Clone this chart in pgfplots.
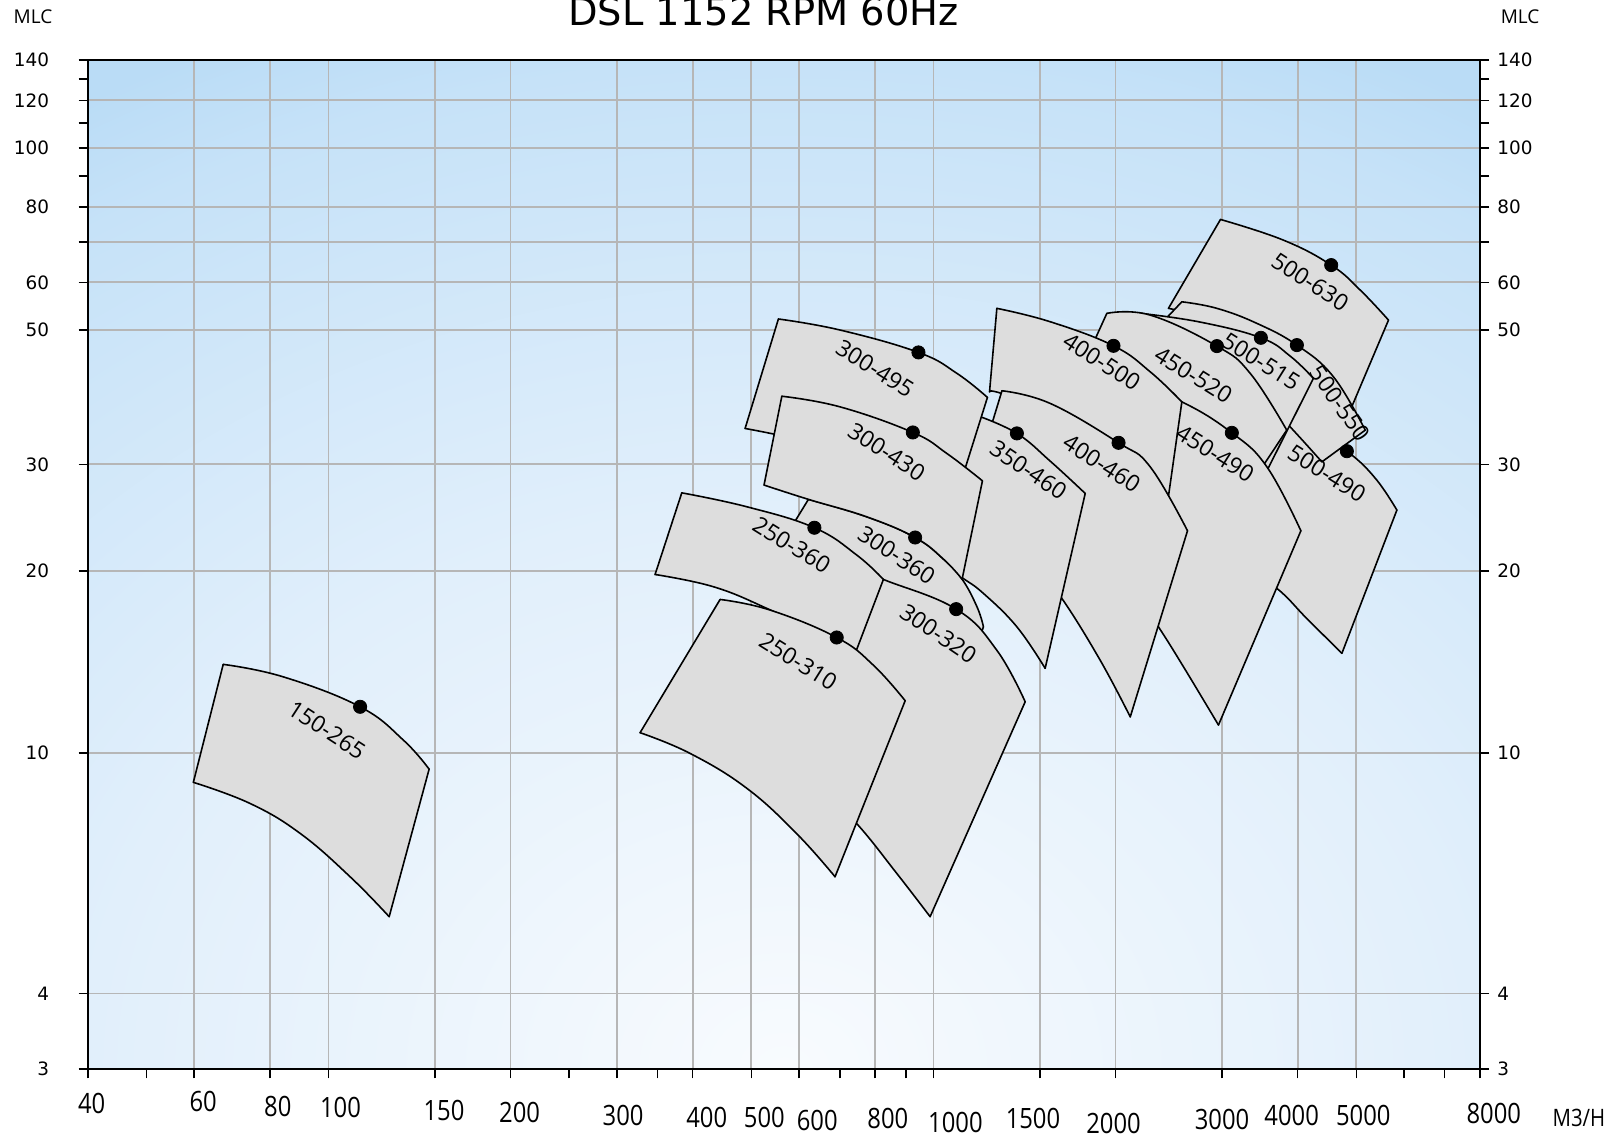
\documentclass[border=0pt]{standalone}
\usepackage{pgfplots}
\pgfplotsset{compat=1.18}
\usepgfplotslibrary{fillbetween}
\usepackage{fontspec}
\setmainfont{Open Sans}
\newfontfamily\dejavu{DejaVu Sans}
\newfontfamily\narrow[FakeStretch=0.85]{Open Sans}
\definecolor{gridc}{RGB}{182,182,182}
\definecolor{shapec}{RGB}{221,221,221}
\definecolor{bgA}{RGB}{248,251,254}
\definecolor{bgB}{RGB}{225,239,251}
\definecolor{bgC}{RGB}{198,226,248}
\definecolor{bgD}{RGB}{186,220,246}
\pgfdeclareradialshading{bgshade}{\pgfpointorigin}{color(0bp)=(bgA); color(12.5bp)=(bgB); color(22.5bp)=(bgC); color(25bp)=(bgD); color(50bp)=(bgD)}
\tikzset{fill between/on layer=main}
\newcommand\tl[3]{\raisebox{-#2}{\hspace*{#1}#3\hspace*{-#1}}}
\pgfplotsset{outl/.style={black, line width=0.8pt, line join=round, line cap=round}}
\newcommand\pump[5]{%
  \addplot[draw=none, smooth, tension=0.7, name path=T#1] coordinates {#2};
  \addplot[draw=none, smooth, tension=0.7, name path=B#1] coordinates {#3};
  \addplot[fill=shapec, draw=none] fill between[of=T#1 and B#1];
  \addplot[outl, smooth, tension=0.7] coordinates {#2};
  \addplot[outl, smooth, tension=0.7] coordinates {#3};
  \addplot[outl] coordinates {#4};
  \addplot[outl] coordinates {#5};
}
\begin{document}
\begin{tikzpicture}
\begin{axis}[
  set layers,
  scale only axis, width=696pt, height=504.6pt,
  xmode=log, ymode=log, xmin=40, xmax=8000, ymin=3, ymax=140,
  xtick={40,60,80,100,150,200,300,400,500,600,800,1000,1500,2000,3000,4000,5000,8000},
  xticklabels={\tl{2pt}{17.6pt}{40},\tl{4.5pt}{16.6pt}{60},\tl{4pt}{19.1pt}{80},\tl{6pt}{19.6pt}{100},
    \tl{4.5pt}{21.2pt}{150},\tl{4.5pt}{22.2pt}{200},\tl{3pt}{23.8pt}{300},\tl{7pt}{24.8pt}{400},
    \tl{6.5pt}{24.8pt}{500},\tl{9pt}{26.3pt}{600},\tl{6.5pt}{25.3pt}{800},\tl{11pt}{26.9pt}{1000},
    \tl{-3.5pt}{25.3pt}{1500},\tl{-1pt}{27.4pt}{2000},\tl{0pt}{25.8pt}{3000},\tl{-3pt}{23.8pt}{4000},
    \tl{3.5pt}{23.8pt}{5000},\tl{7pt}{22.7pt}{8000}},
  minor xtick={50,250,350,700,900,6000,7000},
  ytick={3,4,10,20,30,50,60,70,80,100,120,140},
  yticklabels={3,4,10,20,30,50,60,,80,100,120,140},
  minor ytick={90,110,130},
  grid=major,
  major grid style={draw=gridc, line width=0.9pt},
  tick align=outside, tick pos=left,
  major tick length=4.6pt, minor tick length=4.6pt,
  every tick/.style={black, line width=0.8pt},
  axis line style={line width=1pt},
  xticklabel style={anchor=base, inner sep=0pt, font=\narrow\fontsize{14}{16}\selectfont},
  yticklabel style={anchor=east, inner sep=0pt, xshift=-14.5pt, font=\dejavu\fontsize{9.2}{11}\selectfont},
]
\coordinate (SW) at (rel axis cs:0,0);
\coordinate (NE) at (rel axis cs:1,1);
\begin{pgfonlayer}{axis background}
\begin{scope}
\clip (rel axis cs:0,0) rectangle (rel axis cs:1,1);
\shade[shading=bgshade] (rel axis cs:-0.5,-1.11) rectangle (rel axis cs:1.5,1.11);
\end{scope}
\end{pgfonlayer}

\pump{a}{(67.0,14.01) (84.2,13.36) (112.8,11.92) (133.0,10.50) (146.7,9.40)}
        {(59.8,8.94) (74.2,8.25) (89.8,7.36) (108.6,6.24) (126.0,5.36)}
        {(67.0,14.01) (59.8,8.94)}{(146.7,9.40) (126.0,5.36)}
\pump{b}{(2982,76.25) (3789,70.47) (4544,64.08) (5075,58.26) (5652,51.97)}
        {(2446,54.35) (3094,51.00) (3887,45.50) (4526,39.81) (4848,36.19)}
        {(2982,76.25) (2446,54.35)}{(5652,51.97) (4848,36.19)}
\pump{c}{(3402,37.60) (4038,35.51) (4824,31.55) (5373,28.47) (5835,25.21)}
        {(2760,22.49) (3214,20.44) (3696,18.71) (4142,16.68) (4733,14.61)}
        {(3402,37.60) (2760,22.49)}{(5835,25.21) (4733,14.61)}
\pump{d}{(2574,55.72) (2941,54.35) (3424,51.33) (3988,47.25) (4583,41.88) (5173,34.18)}
        {(2282,49.08) (2760,46.37) (3339,40.57) (3887,34.62) (4386,30.29)}
        {(2574,55.72) (2282,49.08)}{(5173,34.18) (4386,30.29)}
\pump{e}{(2182,53.38) (2760,51.58) (3478,48.58) (3887,45.32) (4247,41.63)}
        {(2074,47.25) (2557,44.31) (3036,39.81) (3339,34.18) (3495,28.26)}
        {(2182,53.38) (2074,47.25)}{(4247,41.63) (3495,28.26)}
\pump{f}{(1935,53.32) (2282,52.97) (2941,47.07) (3339,42.43) (3838,34.18)}
        {(1748,42.63) (2197,39.51) (2657,35.51) (3036,31.66) (3214,26.19)}
        {(1935,53.32) (1748,42.63)}{(3838,34.18) (3214,26.19)}
\pump{g}{(2036,41.68) (2574,38.07) (3114,33.83) (3558,29.72) (4049,23.30)}
        {(1816,22.49) (2115,18.95) (2355,16.16) (2590,13.88) (2959,11.12)}
        {(2036,41.68) (1816,22.49)}{(4049,23.30) (2959,11.12)}
\pump{h}{(1273,54.35) (1560,51.64) (1985,47.12) (2282,42.68) (2574,38.07)}
        {(1238,39.56) (1298,39.29) (1620,36.19) (2036,31.08) (2415,24.27)}
        {(1273,54.35) (1238,39.56)}{(2574,38.07) (2415,24.27)}
\pump{i}{(1298,39.71) (1560,37.84) (2023,32.57) (2282,29.72) (2630,23.30)}
        {(1106.7,23.54) (1289.3,22.23) (1472.9,20.37) (1630.4,18.01) (1886,14.24) (2115,11.47)}
        {(1298,39.71) (1106.7,23.54)}{(2630,23.30) (2115,11.47)}
\pump{j}{(1186,36.08) (1374,33.76) (1560,30.37) (1782,26.86)}
        {(1026,20.68) (1114,19.51) (1210,18.35) (1374,16.16) (1530,13.80)}
        {(1186,36.08) (1026,20.68)}{(1782,26.86) (1530,13.80)}
\pump{k}{(621.4,26.26) (776.0,24.57) (932.7,22.71) (1038.7,20.92) (1115.3,19.38) (1181,17.42) (1209.7,16.16)}
        {(537.0,20.68) (674.8,19.68) (816.2,17.89) (987.4,15.37) (1106.7,12.70)}
        {(621.4,26.26) (537.0,20.68)}{(1209.7,16.16) (1106.7,12.70)}
\pump{l}{(728.2,20.44) (826.6,19.36) (1090.3,17.29) (1272.5,14.79) (1418,12.15)}
        {(516.9,10.03) (637.4,8.95) (747.0,7.64) (869.8,6.32) (987.4,5.36)}
        {(728.2,20.44) (516.9,10.03)}{(1418,12.15) (987.4,5.36)}
\pump{m}{(554.3,52.19) (701.0,50.04) (944.6,45.95) (1093.4,42.43) (1228.2,38.72)}
        {(488.3,34.40) (602.0,32.91) (756.4,30.72) (950.6,28.26) (1086.3,26.19)}
        {(554.3,52.19) (488.3,34.40)}{(1228.2,38.72) (1086.3,26.19)}
\pump{n}{(561.6,38.90) (701.0,37.35) (924.6,33.88) (1052.2,31.28) (1205.0,28.18)}
        {(524.8,27.73) (621.4,26.26) (776.0,24.57) (932.7,22.71) (1038.7,20.92) (1115.3,19.38)}
        {(561.6,38.90) (524.8,27.73)}{(1205.0,28.18) (1115.3,19.38)}
\pump{o}{(383.8,26.92) (491.5,25.53) (635.7,23.57) (747.0,21.24) (826.6,19.36)}
        {(346.7,19.73) (432.8,18.83) (530.2,17.34) (641.6,15.76) (728.2,13.88)}
        {(383.8,26.92) (346.7,19.73)}{(826.6,19.36) (728.2,13.88)}
\pump{p}{(444.0,17.94) (537.0,17.23) (692.1,15.52) (795.6,13.97) (898.0,12.20)}
        {(327.4,10.80) (396.2,9.98) (491.5,8.74) (594.5,7.35) (687.7,6.24)}
        {(444.0,17.94) (327.4,10.80)}{(898.0,12.20) (687.7,6.24)}

\addplot[only marks, mark=*, mark size=3.3pt, black] coordinates {
  (112.8,11.92) (692.1,15.52) (635.7,23.57) (932.7,22.71) (1090.3,17.29)
  (924.6,33.88) (944.6,45.95) (1373.9,33.76) (1984.5,47.12) (2022.8,32.57)
  (3113.6,33.83) (2941.3,47.07) (3477.5,48.58) (3988.1,47.25) (4544.1,64.08) (4823.5,31.55)};

\begin{scope}[every node/.style={font=\fontsize{11.5}{13}\selectfont, inner sep=0pt}]
\node[rotate=-33] at (axis cs:99.4,10.91) {150-265};
\node[rotate=-32] at (axis cs:598.1,14.15) {250-310};
\node[rotate=-32] at (axis cs:583.3,22.07) {250-360};
\node[rotate=-33] at (axis cs:869.8,21.24) {300-360};
\node[rotate=-34] at (axis cs:1019.1,15.76) {300-320};
\node[rotate=-33] at (axis cs:837.2,31.47) {300-430};
\node[rotate=-32] at (axis cs:800.7,43.23) {300-495};
\node[rotate=-34] at (axis cs:1435.7,29.36) {350-460};
\node[rotate=-33] at (axis cs:1898.4,44.36) {400-500};
\node[rotate=-33] at (axis cs:1898.4,30.11) {400-460};
\node[rotate=-32] at (axis cs:2922.4,31.28) {450-490};
\node[rotate=-32] at (axis cs:2690.4,42.16) {450-520};
\node[rotate=-32] at (axis cs:3481.7,44.36) {500-515};
\node[rotate=-55] at (axis cs:4702.7,37.84) {500-550};
\node[rotate=-33] at (axis cs:4195.0,60.13) {500-630};
\node[rotate=-32] at (axis cs:4470.6,28.99) {500-490};
\end{scope}
\end{axis}
\begin{axis}[
  scale only axis, width=696pt, height=504.6pt,
  xmode=log, ymode=log, xmin=40, xmax=8000, ymin=3, ymax=140,
  axis x line=none, axis y line*=right,
  ytick={3,4,10,20,30,50,60,70,80,100,120,140},
  yticklabels={3,4,10,20,30,50,60,,80,100,120,140},
  minor ytick={90,110,130},
  tick align=outside,
  major tick length=4.6pt, minor tick length=4.6pt,
  every tick/.style={black, line width=0.8pt},
  axis line style={line width=1pt},
  yticklabel style={anchor=west, inner sep=0pt, xshift=4pt, font=\dejavu\fontsize{9.2}{11}\selectfont},
]
\end{axis}
\node[font=\dejavu\fontsize{19.2}{21}\selectfont, anchor=base] at ([shift={(337.95pt,521.6pt)}]SW) {DSL 1152 RPM 60Hz};
\node[font=\fontsize{9.5}{11}\selectfont] at ([shift={(-27.35pt,526.25pt)}]SW) {MLC};
\node[font=\fontsize{9.5}{11}\selectfont] at ([shift={(716.15pt,526.25pt)}]SW) {MLC};
\node[font=\narrow\fontsize{12}{14}\selectfont] at ([shift={(745.55pt,-24.3pt)}]SW) {M3/H};
\pgfresetboundingbox
\path ([shift={(-43.85pt,-32.975pt)}]SW) rectangle ([shift={(69.1pt,29.925pt)}]NE);
\end{tikzpicture}
\end{document}
